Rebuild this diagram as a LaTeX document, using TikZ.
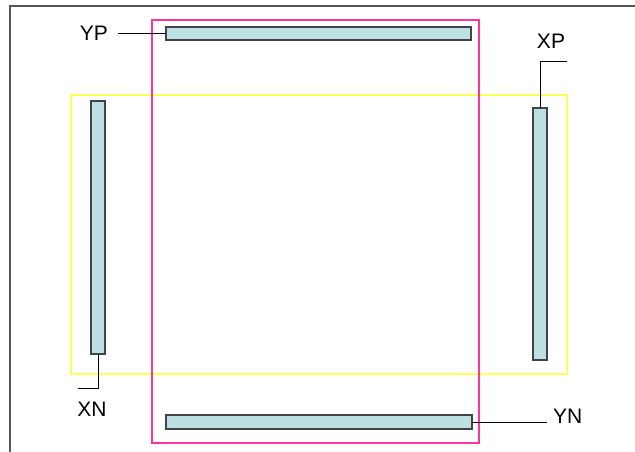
\documentclass[tikz,border=0pt]{standalone}
\usepackage{fontspec}
\setmainfont{Liberation Sans}
\definecolor{barfill}{HTML}{BDE1E3}
\definecolor{barline}{HTML}{444444}
\definecolor{pinkline}{HTML}{FF3399}
\definecolor{yelline}{HTML}{FFFF55}
\definecolor{frameline}{HTML}{555555}
\begin{document}
\begin{tikzpicture}[x=1pt,y=-1pt,
  bar/.style={draw=barline, fill=barfill, line width=1.1pt, inner sep=0pt, outer sep=0pt},
  lbl/.style={font=\fontsize{21}{25}\selectfont, inner sep=0pt, text=black},
  leader/.style={draw=black, line width=0.9pt}]
\useasboundingbox (0,0) rectangle (635,452);
\fill[white] (0,0) rectangle (635,452);
% outer frame (partial)
\draw[frameline, line width=1.5pt] (10,452) -- (10,6) -- (635,6);
% yellow and pink regions
\draw[yelline, line width=1.4pt] (71,95) rectangle (567,374);
\draw[pinkline, line width=1.2pt] (152,20) rectangle (479,443);
% bars
\node[bar, minimum width=305pt, minimum height=13pt] (ypbar) at (318.5,33.5) {};
\node[bar, minimum width=306pt, minimum height=14pt] (ynbar) at (319,422) {};
\node[bar, minimum width=14pt, minimum height=253pt] (xnbar) at (98,227.5) {};
\node[bar, minimum width=14pt, minimum height=252pt] (xpbar) at (540,234) {};
% labels
\node[lbl, anchor=east] (yptext) at (108,33) {YP};
\node[lbl] (xntext) at (92,409) {XN};
\node[lbl] (xptext) at (551,41) {XP};
\node[lbl, anchor=west] (yntext) at (553,416) {YN};
% leader ends
\coordinate (ypc) at (118,33.5);
\coordinate (xnc) at (78,388);
\coordinate (xpc) at (567,61);
\coordinate (ync) at (547,422);
% leaders
\draw[leader] (ypc) -- (ypbar.west);
\draw[leader] (xnbar.south) |- (xnc);
\draw[leader] (xpbar.north) |- (xpc);
\draw[leader] (ynbar.east) -- (ync);
\end{tikzpicture}
\end{document}
